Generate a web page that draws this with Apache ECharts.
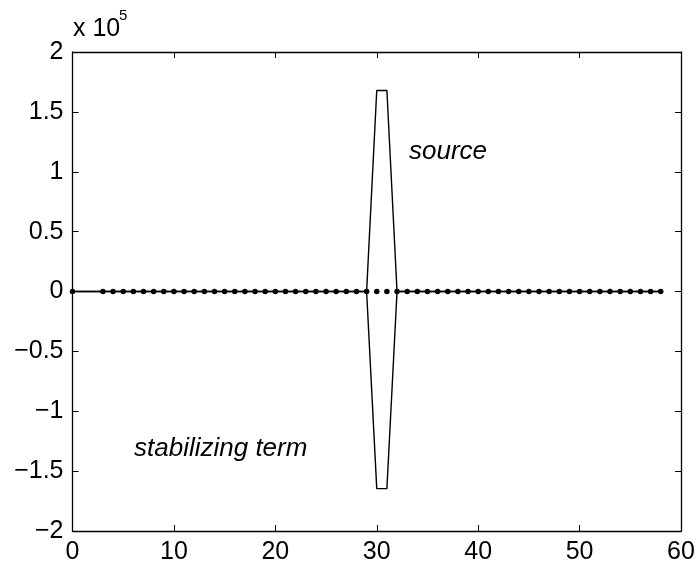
<!DOCTYPE html>
<html>
<head>
<meta charset="utf-8">
<script src="https://cdn.jsdelivr.net/npm/echarts@6/dist/echarts.min.js"></script>
<style>html,body{margin:0;padding:0;background:#fff}#c{width:699px;height:571px}</style>
</head>
<body>
<div id="c"></div>
<script>
const xValues = [0,1,2,3,4,5,6,7,8,9,10,11,12,13,14,15,16,17,18,19,20,21,22,23,24,25,26,27,28,29,30,31,32,33,34,35,36,37,38,39,40,41,42,43,44,45,46,47,48,49,50,51,52,53,54,55,56,57,58];
const sourceValues = [0,0,0,0,0,0,0,0,0,0,0,0,0,0,0,0,0,0,0,0,0,0,0,0,0,0,0,0,0,0,167900,167900,0,0,0,0,0,0,0,0,0,0,0,0,0,0,0,0,0,0,0,0,0,0,0,0,0,0,0];
const stabilizingValues = [0,0,0,0,0,0,0,0,0,0,0,0,0,0,0,0,0,0,0,0,0,0,0,0,0,0,0,0,0,0,-164600,-164600,0,0,0,0,0,0,0,0,0,0,0,0,0,0,0,0,0,0,0,0,0,0,0,0,0,0,0];
const dotX = [0,3,4,5,6,7,8,9,10,11,12,13,14,15,16,17,18,19,20,21,22,23,24,25,26,27,28,29,30,31,32,33,34,35,36,37,38,39,40,41,42,43,44,45,46,47,48,49,50,51,52,53,54,55,56,57,58];
const dotValues = dotX.map(() => 0);
const yTickLabels = {"-200000":"\u22122","-150000":"\u22121.5","-100000":"\u22121","-50000":"\u22120.5","0":"0","50000":"0.5","100000":"1","150000":"1.5","200000":"2"};

const font = 'Liberation Sans, Arial, Helvetica, sans-serif';
const chart = echarts.init(document.getElementById('c'));
const axisLine = {show:true, onZero:false, lineStyle:{color:'#000', width:1.3}};
const tick = {show:true, inside:true, length:6, lineStyle:{color:'#000', width:1}};
chart.setOption({
  animation:false,
  backgroundColor:'#fff',
  grid:{left:72.5, right:18, top:52, bottom:40, containLabel:false},
  xAxis:[
    {type:'value', min:0, max:60, interval:10, position:'bottom', axisLine, axisTick:tick, splitLine:{show:false},
     axisLabel:{color:'#000', fontFamily:font, fontSize:25, margin:9}},
    {type:'value', min:0, max:60, interval:10, position:'top', axisLine, axisTick:tick, splitLine:{show:false},
     axisLabel:{show:false}}
  ],
  yAxis:[
    {type:'value', min:-200000, max:200000, interval:50000, position:'left', axisLine, axisTick:tick, splitLine:{show:false},
     axisLabel:{color:'#000', fontFamily:font, fontSize:25, margin:9, formatter:v => yTickLabels[String(v)] ?? ''}},
    {type:'value', min:-200000, max:200000, interval:50000, position:'right', axisLine, axisTick:tick, splitLine:{show:false},
     axisLabel:{show:false}}
  ],
  series:[
    {name:'source', type:'line', data:xValues.map((x,i)=>[x, sourceValues[i]]), showSymbol:false, symbol:'none',
     lineStyle:{color:'#000', width:1.4}},
    {name:'stabilizing term', type:'line', data:xValues.map((x,i)=>[x, stabilizingValues[i]]), showSymbol:false, symbol:'none',
     lineStyle:{color:'#000', width:1.4}},
    {name:'dots', type:'scatter', data:dotX.map((x,i)=>[x, dotValues[i]]), symbol:'circle', symbolSize:5.5,
     itemStyle:{color:'#000', opacity:1}}
  ],
  graphic:[
    {type:'text', left:73, top:17, style:{text:'x 10', fontFamily:font, fontSize:25, fill:'#000'}},
    {type:'text', left:119, top:8, style:{text:'5', fontFamily:font, fontSize:15, fill:'#000'}},
    {type:'text', left:409, top:139, style:{text:'source', fontFamily:font, fontSize:26, fontStyle:'italic', fill:'#000'}},
    {type:'text', left:134, top:436, style:{text:'stabilizing term', fontFamily:font, fontSize:26, fontStyle:'italic', fill:'#000'}}
  ]
});
</script>
</body>
</html>
